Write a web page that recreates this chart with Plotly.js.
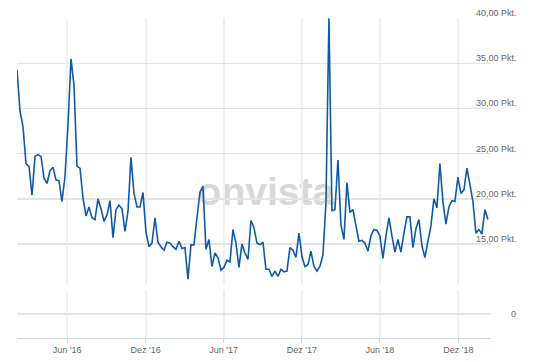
<!DOCTYPE html>
<html><head><meta charset="utf-8">
<script src="https://cdn.plot.ly/plotly-3.0.1.min.js"></script>
<style>html,body{margin:0;padding:0;background:#fff}#chart{width:535px;height:362px}</style>
</head><body><div id="chart"></div>
<script>
const dates = [
'2016-02-05','2016-02-12','2016-02-19','2016-02-26','2016-03-04','2016-03-11','2016-03-18','2016-03-25','2016-04-01','2016-04-08','2016-04-15','2016-04-22','2016-04-29','2016-05-06','2016-05-13','2016-05-20','2016-05-27','2016-06-03','2016-06-10','2016-06-17','2016-06-24','2016-07-01','2016-07-08','2016-07-15','2016-07-22','2016-07-29','2016-08-05','2016-08-12','2016-08-19','2016-08-26','2016-09-02','2016-09-09','2016-09-16','2016-09-23','2016-09-30','2016-10-07','2016-10-14','2016-10-21','2016-10-28','2016-11-04','2016-11-11','2016-11-18','2016-11-25','2016-12-02','2016-12-09','2016-12-16','2016-12-23','2016-12-30',
'2017-01-06','2017-01-13','2017-01-20','2017-01-27','2017-02-03','2017-02-10','2017-02-17','2017-02-24','2017-03-03','2017-03-10','2017-03-17','2017-03-24','2017-03-31','2017-04-07','2017-04-14','2017-04-21','2017-04-28','2017-05-05','2017-05-12','2017-05-19','2017-05-26','2017-06-02','2017-06-09','2017-06-16','2017-06-23','2017-06-30','2017-07-07','2017-07-14','2017-07-21','2017-07-28','2017-08-04','2017-08-11','2017-08-18','2017-08-25','2017-09-01','2017-09-08','2017-09-15','2017-09-22','2017-09-29','2017-10-06','2017-10-13','2017-10-20','2017-10-27','2017-11-03','2017-11-10','2017-11-17','2017-11-24','2017-12-01','2017-12-08','2017-12-15','2017-12-22','2017-12-29',
'2018-01-05','2018-01-12','2018-01-19','2018-01-26','2018-02-02','2018-02-09','2018-02-16','2018-02-23','2018-03-02','2018-03-09','2018-03-16','2018-03-23','2018-03-30','2018-04-06','2018-04-13','2018-04-20','2018-04-27','2018-05-04','2018-05-11','2018-05-18','2018-05-25','2018-06-01','2018-06-08','2018-06-15','2018-06-22','2018-06-29','2018-07-06','2018-07-13','2018-07-20','2018-07-27','2018-08-03','2018-08-10','2018-08-17','2018-08-24','2018-08-31','2018-09-07','2018-09-14','2018-09-21','2018-09-28','2018-10-05','2018-10-12','2018-10-19','2018-10-26','2018-11-02','2018-11-09','2018-11-16','2018-11-23','2018-11-30','2018-12-07','2018-12-14','2018-12-21','2018-12-28',
'2019-01-04','2019-01-11','2019-01-18','2019-01-25','2019-02-01','2019-02-08'
];
const values = [
34.3,29.7,28.0,23.9,23.6,20.4,24.7,24.9,24.7,22.3,21.7,23.1,23.5,22.1,22.0,19.7,22.5,28.2,35.5,32.6,
23.6,23.4,20.1,18.1,19.1,17.9,17.7,20.0,18.9,17.5,18.2,19.8,15.7,18.8,19.3,18.9,16.4,18.6,24.6,20.6,
19.1,19.1,20.7,16.3,14.7,15.1,17.9,15.2,14.7,14.3,15.2,15.1,14.7,14.4,15.3,
14.5,14.6,11.1,14.9,14.9,17.9,20.7,21.4,14.4,15.5,12.5,14.0,13.5,12.1,12.4,13.2,13.0,16.6,15.1,12.4,
15.0,14.0,13.3,17.6,16.8,15.1,14.9,15.2,12.2,12.2,11.4,12.0,11.4,12.2,11.9,12.0,14.6,14.3,13.5,16.2,
13.6,12.5,12.7,14.2,12.5,12.0,12.5,13.8,19.5,40.0,18.7,18.8,
24.3,17.1,15.5,21.8,18.5,18.8,16.8,15.3,15.4,15.1,14.2,15.9,16.6,16.5,15.9,13.4,15.9,17.9,15.9,14.1,
15.5,14.1,16.2,18.0,18.0,14.6,16.7,17.7,14.8,13.5,15.3,17.0,20.0,19.0,23.9,19.7,17.2,19.1,19.8,19.7,
22.4,20.6,21.0,23.4,21.6,19.7,16.2,16.6,16.1,18.8,17.7
];
const xTickVals = ['2016-06-01','2016-12-01','2017-06-01','2017-12-01','2018-06-01','2018-12-01'];
const xTickText = ["Jun '16","Dez '16","Jun '17","Dez '17","Jun '18","Dez '18"];
const yTickVals = [15,20,25,30,35,40];
const yTickText = ['15,00 Pkt.','20,00 Pkt.','25,00 Pkt.','30,00 Pkt.','35,00 Pkt.','40,00 Pkt.'];
const lowerTickVals = [0];
const lowerTickText = ['0'];

const xRange = ['2016-02-05','2019-02-15 05:00'];
const labelFont = {family:'Liberation Sans, Arial, sans-serif', size:9, color:'#6b655f'};

const traces = [
  {x:dates, y:values, type:'scatter', mode:'lines', xaxis:'x2', yaxis:'y',
   line:{color:'#0f5aa6', width:1.6}, hoverinfo:'skip', showlegend:false},
  {x:[], y:[], type:'scatter', mode:'lines', xaxis:'x', yaxis:'y2', hoverinfo:'skip', showlegend:false}
];

const layout = {
  width:535, height:362,
  margin:{l:17, r:44, t:18, b:24, pad:0},
  paper_bgcolor:'#ffffff', plot_bgcolor:'rgba(0,0,0,0)',
  showlegend:false,
  font:labelFont,
  xaxis:{type:'date', range:xRange, anchor:'y2', tickmode:'array', tickvals:xTickVals, ticktext:xTickText,
    showgrid:true, gridcolor:'#f1f1f1', gridwidth:2, showline:true, linecolor:'#c8d7e6', linewidth:1,
    ticks:'outside', ticklen:4, tickcolor:'#c8d7e6', tickwidth:1, zeroline:false, tickfont:labelFont,
    ticklabelstandoff:-1, automargin:false, fixedrange:true},
  xaxis2:{type:'date', matches:'x', range:xRange, anchor:'y', tickmode:'array', tickvals:xTickVals,
    showticklabels:false, showgrid:true, gridcolor:'#f1f1f1', gridwidth:2, showline:false, ticks:'',
    zeroline:false, automargin:false, fixedrange:true},
  yaxis:{domain:[0.1641,1], range:[10.40,40.03], side:'right', anchor:'x2', tickmode:'array',
    tickvals:yTickVals, ticktext:yTickText, ticklabelposition:'outside top', ticklabelstandoff:-16,
    ticklabelshift:1,
    showgrid:true, gridcolor:'#e4e4e4', gridwidth:1.5, zeroline:false, showline:false, ticks:'',
    tickfont:labelFont, automargin:false, fixedrange:true},
  yaxis2:{domain:[0,0.15], range:[-1,1], side:'right', anchor:'x', tickmode:'array',
    tickvals:lowerTickVals, ticktext:lowerTickText, ticklabelposition:'outside top', ticklabelstandoff:19,
    ticklabelshift:6,
    showgrid:true, gridcolor:'#e4e4e4', gridwidth:1.5, zeroline:false, showline:false, ticks:'',
    tickfont:labelFont, automargin:false, fixedrange:true},
  shapes:[{type:'rect', xref:'x2 domain', yref:'y domain', x0:0.40, x1:0.65, y0:0.30, y1:0.429,
    line:{width:0}, fillcolor:'rgba(0,0,0,0)', layer:'below',
    label:{text:'onvista', textposition:'middle center',
      font:{family:'Liberation Sans, Arial, sans-serif', size:39, color:'#d8d8d8', weight:'bold'}}}]
};

Plotly.newPlot('chart', traces, layout, {staticPlot:true, displayModeBar:false});
</script>
</body></html>
